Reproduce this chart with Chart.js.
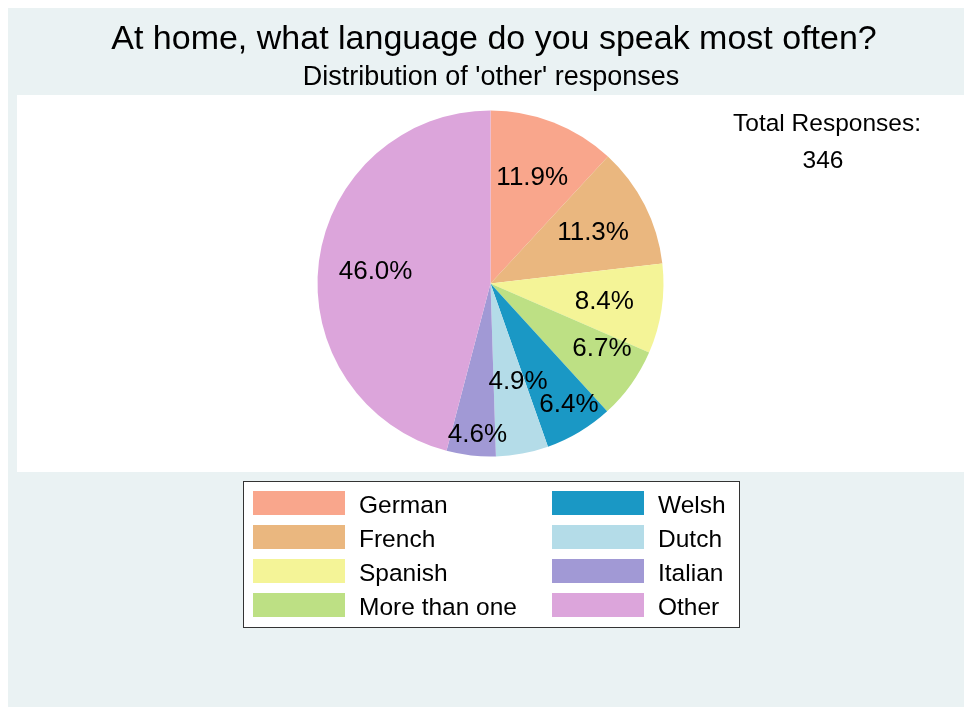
<!DOCTYPE html>
<html>
<head>
<meta charset="utf-8">
<script src="https://cdn.jsdelivr.net/npm/chart.js@4"></script>
<style>
  html, body { margin: 0; padding: 0; background: #ffffff; }
  canvas { display: block; }
</style>
</head>
<body>
<canvas id="chart-lang" width="964" height="707"></canvas>
<script>
// data
const languages = ['German', 'French', 'Spanish', 'More than one', 'Welsh', 'Dutch', 'Italian', 'Other'];
const percents = [11.9, 11.3, 8.4, 6.7, 6.4, 4.9, 4.6, 46.0];
const totalResponses = 346;

const colors = ['#F9A68C', '#EAB77F', '#F4F497', '#BDE084', '#1A98C5', '#B4DCE8', '#A199D5', '#DCA5DB'];

// where Stata nudged the slice labels (fraction of radius, angle shift in degrees)
const labelRadius = [0.662, 0.665, 0.665, 0.745, 0.83, 0.585, 0.872, 0.668];
const labelShift = [0, 0, 0, -5.4, -2.2, -5.2, -1.5, -1.3];

const FONT = '"Liberation Sans", Arial, Helvetica, sans-serif';

const backdrop = {
  id: 'backdrop',
  beforeDraw(chart) {
    const ctx = chart.ctx;
    ctx.save();
    ctx.fillStyle = '#ffffff';
    ctx.fillRect(0, 0, chart.width, chart.height);
    ctx.fillStyle = '#EAF2F3';
    ctx.fillRect(8, 8, chart.width - 8, chart.height - 8);
    ctx.fillStyle = '#ffffff';
    ctx.fillRect(17, 95, chart.width - 17, 377);
    ctx.restore();
  }
};

const annotate = {
  id: 'annotate',
  afterDatasetsDraw(chart) {
    const ctx = chart.ctx;
    const meta = chart.getDatasetMeta(0);
    ctx.save();
    ctx.fillStyle = '#000000';

    // slice labels
    ctx.font = '26px ' + FONT;
    ctx.textAlign = 'center';
    ctx.textBaseline = 'middle';
    meta.data.forEach((arc, i) => {
      const mid = (arc.startAngle + arc.endAngle) / 2 + labelShift[i] * Math.PI / 180;
      const r = arc.outerRadius * labelRadius[i];
      ctx.fillText(percents[i].toFixed(1) + '%', arc.x + Math.cos(mid) * r, arc.y + Math.sin(mid) * r + 1);
    });

    // titles
    ctx.textBaseline = 'alphabetic';
    ctx.font = '34px ' + FONT;
    ctx.fillText('At home, what language do you speak most often?', 494, 49);
    ctx.font = '27px ' + FONT;
    ctx.fillText("Distribution of 'other' responses", 491, 85);

    // total note
    ctx.font = '24.5px ' + FONT;
    ctx.fillText('Total Responses:', 827, 131);
    ctx.fillText(String(totalResponses), 823, 168);

    // legend, two columns filled top to bottom
    ctx.fillStyle = '#ffffff';
    ctx.fillRect(243, 481, 497, 147);
    ctx.strokeStyle = '#333333';
    ctx.lineWidth = 1;
    ctx.strokeRect(243.5, 481.5, 496, 146);
    ctx.textAlign = 'left';
    const labels = chart.data.labels;
    const fills = chart.data.datasets[0].backgroundColor;
    labels.forEach((lab, i) => {
      const col = Math.floor(i / 4);
      const row = i % 4;
      const sx = col === 0 ? 253 : 552;
      const tx = col === 0 ? 359 : 658;
      const sy = 491 + row * 34;
      ctx.fillStyle = fills[i];
      ctx.fillRect(sx, sy, 92, 24);
      ctx.fillStyle = '#000000';
      ctx.fillText(lab, tx, sy + 22);
    });
    ctx.restore();
  }
};

const chartLang = new Chart(document.getElementById('chart-lang').getContext('2d'), {
  type: 'pie',
  data: {
    labels: languages,
    datasets: [{
      data: percents,
      backgroundColor: colors,
      borderWidth: 0
    }]
  },
  options: {
    responsive: false,
    animation: false,
    layout: {
      padding: { left: 317.5, top: 110.5, right: 300.5, bottom: 250.5 }
    },
    plugins: {
      legend: { display: false },
      tooltip: { enabled: false },
      title: { display: false }
    }
  },
  plugins: [backdrop, annotate]
});
</script>
</body>
</html>
